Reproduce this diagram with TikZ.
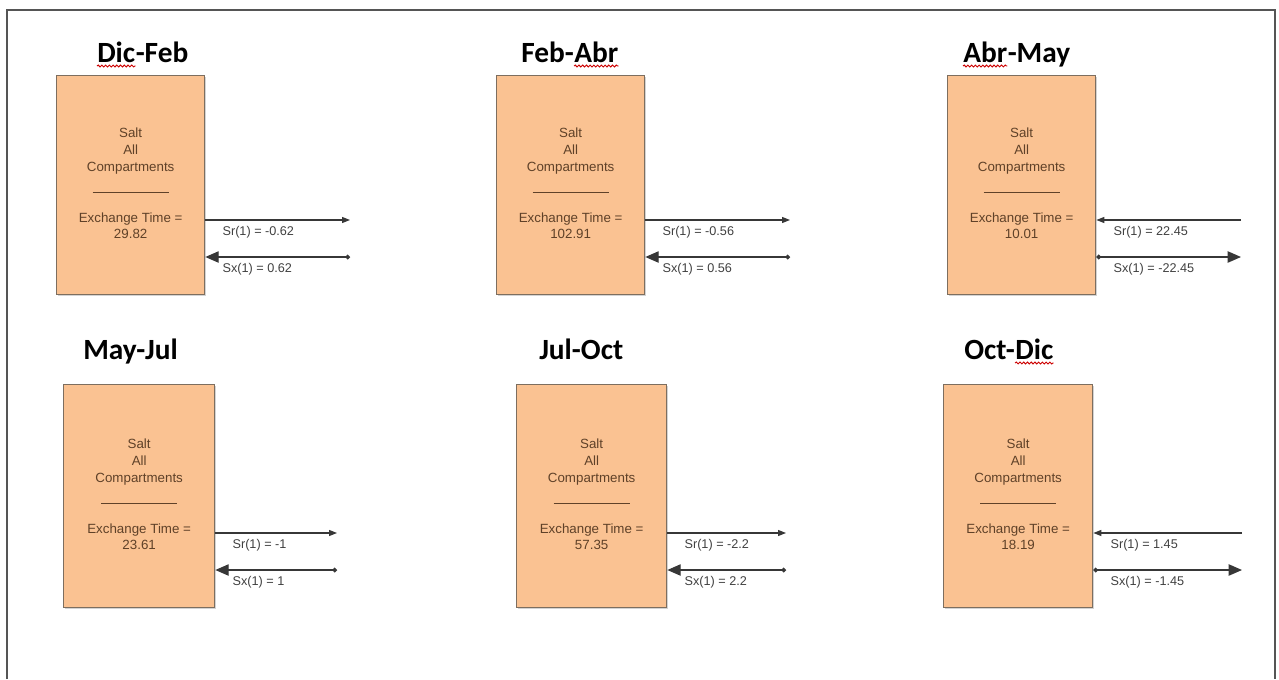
\documentclass[tikz,border=0pt]{standalone}
\usepackage{fontspec}
\setmainfont{Liberation Sans}
\newfontfamily\titlefont{Carlito}
\usetikzlibrary{arrows.meta,calc,decorations.pathmorphing,shadows}

\definecolor{boxfill}{RGB}{250,194,146}
\definecolor{boxline}{RGB}{125,110,95}
\definecolor{boxtext}{RGB}{95,65,40}
\definecolor{flowline}{RGB}{55,55,55}
\definecolor{frameline}{RGB}{85,85,85}

\begin{document}
\begin{tikzpicture}[x=0.75pt,y=-0.75pt,
    compartment/.style={draw=boxline,line width=1pt,fill=boxfill,inner sep=0pt,anchor=north west,
      drop shadow={shadow xshift=1pt,shadow yshift=-1pt,opacity=0.35}},
    period/.style={font=\titlefont\bfseries\fontsize{22}{26}\selectfont,inner sep=0pt,anchor=base west},
    boxlabel/.style={font=\fontsize{10}{12.75}\selectfont,text=boxtext,align=center,inner sep=0pt},
    flowlabel/.style={font=\fontsize{9.5}{11}\selectfont,text=black!75,anchor=west,inner sep=0pt},
    flow/.style={draw=flowline,line width=0.9pt},
    flowtip/.tip={Triangle[length=6pt,width=4.5pt]},
    headtip/.tip={Triangle[length=10pt,width=8.5pt]},
    tailtip/.tip={Circle[length=3.5pt]},
    typo/.style={draw=red!80!black,line width=0.7pt,decorate,
      decoration={snake,amplitude=0.7pt,segment length=2.8pt}}
  ]

    % ============================================
    % PAGE AND FRAME
    % ============================================

    \useasboundingbox (0,0) rectangle (1279,679);
    \draw[frameline,line width=1.5pt] (7,679) -- (7,10) -- (1275,10) -- (1275,679);

    % ============================================
    % COMPARTMENTS AND EXCHANGE FLOWS
    % ============================================

    % n / left / top / width / height / end of flows / Sr row / Sx row / time / Sr / Sx / inward?
    \foreach \n/\bx/\by/\bw/\bh/\ex/\ya/\yb/\et/\sr/\sx/\dir in {
        1/56/75/148/219/350/220/257/29.82/-0.62/0.62/0,
        2/496/75/148/219/790/220/257/102.91/-0.56/0.56/0,
        3/947/75/148/219/1241/220/257/10.01/22.45/-22.45/1,
        4/63/384/151/223/337/533/570/23.61/-1/1/0,
        5/516/384/150/223/786/533/570/57.35/-2.2/2.2/0,
        6/943/384/149/223/1242/533/570/18.19/1.45/-1.45/1}{

        % Box
        \node[compartment,minimum width=\bw*0.75pt,minimum height=\bh*0.75pt] (box\n) at (\bx,\by) {};
        \node[boxlabel] (head\n) at ($(box\n.center)+(0,-34)$) {Salt\\All\\Compartments};
        \draw[boxtext,line width=1pt] ($(box\n.center)+(-38,7)$) -- ($(box\n.center)+(38,7)$);
        \node[boxlabel,font=\fontsize{10}{12}\selectfont] (time\n) at ($(box\n.center)+(0,41)$) {Exchange Time =\\\et};

        % Flows
        \coordinate (sr\n) at (\ex,\ya);
        \coordinate (sx\n) at (\ex,\yb);
        \ifnum\dir=0
          \draw[flow,-flowtip] (box\n.east |- sr\n) -- (sr\n);
          \draw[flow,tailtip-headtip] (sx\n) -- (box\n.east |- sx\n);
        \else
          \draw[flow,-flowtip] (sr\n) -- (box\n.east |- sr\n);
          \draw[flow,tailtip-headtip] (box\n.east |- sx\n) -- (sx\n);
        \fi

        % Flow labels
        \node[flowlabel] (lsr\n) at ($(box\n.east |- sr\n)+(17,12)$) {Sr(1) = \sr};
        \node[flowlabel] (lsx\n) at ($(box\n.east |- sx\n)+(17,12)$) {Sx(1) = \sx};
    }

    % ============================================
    % PERIOD TITLES
    % ============================================

    % Top row
    \node[period] (t1w) at (97,62) {Dic};
    \node[period] (t1) at (t1w.base east) {-Feb};
    \draw[typo] ($(t1w.base west)+(0,4)$) -- ($(t1w.base east)+(0,4)$);

    \node[period] (t2) at (521,62) {Feb-};
    \node[period] (t2w) at (t2.base east) {Abr};
    \draw[typo] ($(t2w.base west)+(0,4)$) -- ($(t2w.base east)+(0,4)$);

    \node[period] (t3w) at (963,62) {Abr};
    \node[period] (t3) at (t3w.base east) {-May};
    \draw[typo] ($(t3w.base west)+(0,4)$) -- ($(t3w.base east)+(0,4)$);

    % Bottom row
    \node[period] (t4) at (83,359) {May-Jul};
    \node[period] (t5) at (539,359) {Jul-Oct};

    \node[period] (t6) at (964,359) {Oct-};
    \node[period] (t6w) at (t6.base east) {Dic};
    \draw[typo] ($(t6w.base west)+(0,4)$) -- ($(t6w.base east)+(0,4)$);

\end{tikzpicture}
\end{document}
